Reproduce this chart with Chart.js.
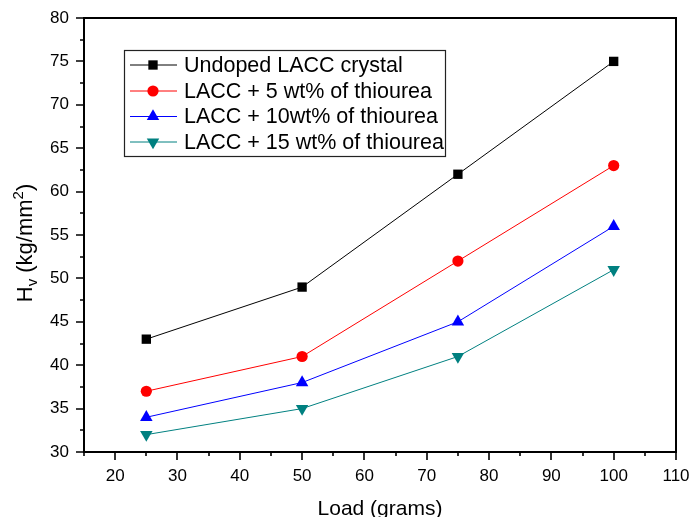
<!DOCTYPE html>
<html>
<head>
<meta charset="utf-8">
<script src="https://cdn.jsdelivr.net/npm/chart.js@4/dist/chart.umd.min.js"></script>
<style>
  html, body { margin: 0; padding: 0; background: #fff; }
  #wrap { width: 691px; height: 517px; position: relative; }
</style>
</head>
<body>
<div id="wrap"><canvas id="c" width="691" height="517"></canvas></div>
<script>
// ---- data ----
const loads = [25, 50, 75, 100];
const undoped = [43, 49, 62, 75];
const thio5 = [37, 41, 52, 63];
const thio10 = [34, 38, 45, 56];
const thio15 = [32, 35, 41, 51];
const seriesLabels = [
  'Undoped LACC crystal',
  'LACC + 5 wt% of thiourea',
  'LACC + 10wt% of thiourea',
  'LACC + 15 wt% of thiourea'
];
const xMajorTicks = [20, 30, 40, 50, 60, 70, 80, 90, 100, 110];
const xMinorTicks = [15, 25, 35, 45, 55, 65, 75, 85, 95, 105];
const yMajorTicks = [30, 35, 40, 45, 50, 55, 60, 65, 70, 75, 80];
const yMinorTicks = [32.5, 37.5, 42.5, 47.5, 52.5, 57.5, 62.5, 67.5, 72.5, 77.5];
const xTitle = 'Load (grams)';

const FONT = '"Liberation Sans", Arial, Helvetica, sans-serif';

function pts(ys) { return loads.map((x, i) => ({ x: x, y: ys[i] })); }

const styles = [
  { color: '#000000', pointStyle: 'rect', radius: 6.6, rotation: 0 },
  { color: '#ff0000', pointStyle: 'circle', radius: 5.6, rotation: 0 },
  { color: '#0000ff', pointStyle: 'triangle', radius: 7.2, rotation: 0 },
  { color: '#008080', pointStyle: 'triangle', radius: 7.2, rotation: 180 }
];
const seriesData = [undoped, thio5, thio10, thio15];

const datasets = seriesData.map((d, i) => ({
  label: seriesLabels[i],
  data: pts(d),
  borderColor: styles[i].color,
  backgroundColor: styles[i].color,
  borderWidth: 1,
  pointStyle: styles[i].pointStyle,
  pointRadius: styles[i].radius,
  pointHoverRadius: styles[i].radius,
  pointRotation: styles[i].rotation,
  pointBorderWidth: 0,
  tension: 0,
  fill: false
}));

function noPad(s) { s.paddingLeft = 0; s.paddingRight = 0; s.paddingTop = 0; s.paddingBottom = 0; }

const framePlugin = {
  id: 'frame',
  afterDatasetsDraw(chart) {
    const ctx = chart.ctx;
    const a = chart.chartArea;
    const xs = chart.scales.x, ys = chart.scales.y;
    ctx.save();
    ctx.strokeStyle = '#000';
    ctx.lineWidth = 2;
    ctx.strokeRect(a.left, a.top, a.right - a.left, a.bottom - a.top);
    ctx.lineWidth = 1.6;
    ctx.beginPath();
    yMajorTicks.forEach(v => { const p = Math.round(ys.getPixelForValue(v)) ; ctx.moveTo(a.left, p); ctx.lineTo(a.left - 8, p); });
    yMinorTicks.forEach(v => { const p = Math.round(ys.getPixelForValue(v)) ; ctx.moveTo(a.left, p); ctx.lineTo(a.left - 4, p); });
    xMajorTicks.forEach(v => { const p = Math.round(xs.getPixelForValue(v)) ; ctx.moveTo(p, a.bottom); ctx.lineTo(p, a.bottom + 8); });
    xMinorTicks.forEach(v => { const p = Math.round(xs.getPixelForValue(v)) ; ctx.moveTo(p, a.bottom); ctx.lineTo(p, a.bottom + 4); });
    ctx.stroke();

    // axis titles
    ctx.fillStyle = '#000';
    ctx.font = '21px ' + FONT;
    ctx.textAlign = 'center';
    ctx.textBaseline = 'alphabetic';
    ctx.fillText(xTitle, (a.left + a.right) / 2, 515);

    // y title with subscript / superscript
    const parts = [
      { t: 'H', size: 22, dy: 0 },
      { t: 'v', size: 15, dy: 5 },
      { t: ' (kg/mm', size: 22, dy: 0 },
      { t: '2', size: 15, dy: -9 },
      { t: ')', size: 22, dy: 0 }
    ];
    let total = 0;
    parts.forEach(p => { ctx.font = p.size + 'px ' + FONT; p.w = ctx.measureText(p.t).width; total += p.w; });
    ctx.translate(32, 243 + total / 2);
    ctx.rotate(-Math.PI / 2);
    ctx.textAlign = 'left';
    let cx = 0;
    parts.forEach(p => { ctx.font = p.size + 'px ' + FONT; ctx.fillText(p.t, cx, p.dy); cx += p.w; });
    ctx.restore();

    // legend
    ctx.save();
    ctx.strokeStyle = '#222';
    ctx.lineWidth = 1.2;
    ctx.strokeRect(124.5, 50.5, 321, 106);
    const rows = [65, 91, 116.5, 142];
    chart.data.datasets.forEach((ds, i) => {
      const y = rows[i];
      ctx.strokeStyle = ds.borderColor;
      ctx.fillStyle = ds.backgroundColor;
      ctx.lineWidth = 1;
      ctx.beginPath();
      ctx.moveTo(130, y); ctx.lineTo(177, y);
      ctx.stroke();
      Chart.helpers.drawPoint(ctx, { pointStyle: ds.pointStyle, rotation: ds.pointRotation, radius: ds.pointRadius, borderWidth: 0 }, 153, y);
      ctx.fillStyle = '#000';
      ctx.font = '21.5px ' + FONT;
      ctx.textAlign = 'left';
      ctx.textBaseline = 'middle';
      ctx.fillText(ds.label, 184, y + 1);
    });
    ctx.restore();
  }
};

new Chart(document.getElementById('c'), {
  type: 'line',
  data: { datasets: datasets },
  options: {
    responsive: false,
    animation: false,
    devicePixelRatio: 1,
    layout: { padding: { top: 18, right: 15, left: 0, bottom: 0 } },
    plugins: { legend: { display: false }, tooltip: { enabled: false } },
    scales: {
      x: {
        type: 'linear',
        min: 15, max: 110,
        afterBuildTicks: s => { s.ticks = xMajorTicks.map(v => ({ value: v })); },
        afterFit: s => { s.height = 65; noPad(s); },
        grid: { display: false, drawTicks: false },
        border: { display: false },
        ticks: { color: '#000', font: { size: 17, family: FONT }, padding: 14, maxRotation: 0, autoSkip: false }
      },
      y: {
        type: 'linear',
        min: 30, max: 80,
        afterBuildTicks: s => { s.ticks = yMajorTicks.map(v => ({ value: v })); },
        afterFit: s => { s.width = 84; noPad(s); },
        grid: { display: false, drawTicks: false },
        border: { display: false },
        ticks: { color: '#000', font: { size: 17, family: FONT }, padding: 15, autoSkip: false }
      }
    }
  },
  plugins: [framePlugin]
});
</script>
</body>
</html>
